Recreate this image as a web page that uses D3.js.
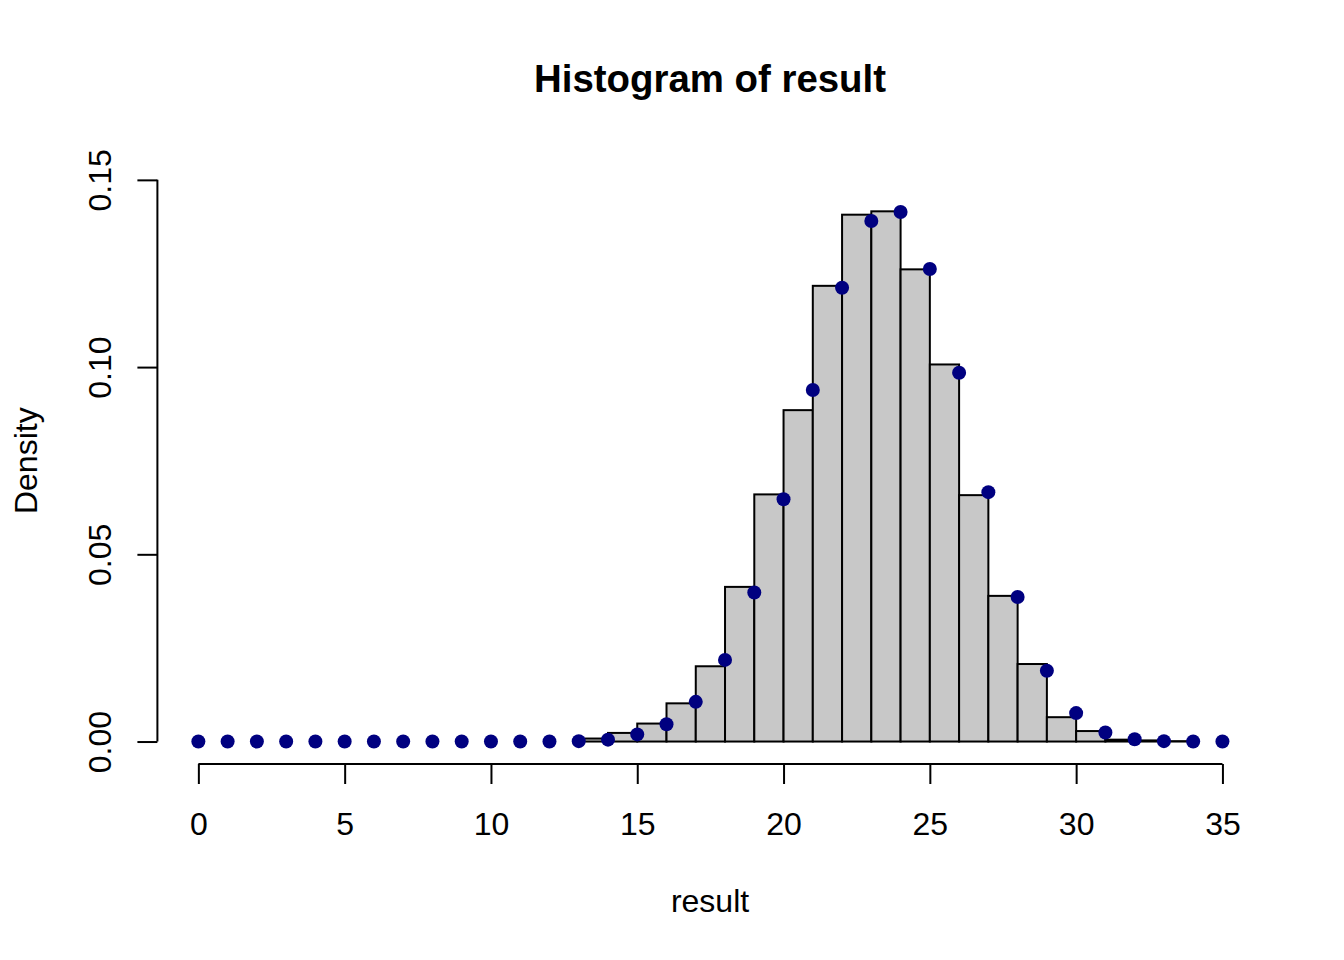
<!DOCTYPE html>
<html>
<head>
<meta charset="utf-8">
<script src="https://cdn.jsdelivr.net/npm/d3@7"></script>
<style>
	body { margin: 0; background: #fff; }
	text { font-family: "Liberation Sans", Arial, Helvetica, sans-serif; fill: #000; }
</style>
</head>
<body>
<div id="chart"></div>
<script>

// histogram bins (left edge of each unit-wide bin) and their densities
var binStarts = [13, 14, 15, 16, 17, 18, 19, 20, 21, 22, 23, 24, 25, 26, 27, 28, 29, 30, 31, 32, 33];
var binDensity = [0.0008, 0.0023, 0.0048, 0.0102, 0.0201, 0.0413, 0.0660, 0.0885, 0.1217, 0.1407,
	0.1416, 0.1261, 0.1007, 0.0658, 0.0389, 0.0207, 0.0065, 0.0028, 0.0005, 0.0003, 0.0001];

// overlaid points: value at each integer 0..35
var pointX = [0, 1, 2, 3, 4, 5, 6, 7, 8, 9, 10, 11, 12, 13, 14, 15, 16, 17,
	18, 19, 20, 21, 22, 23, 24, 25, 26, 27, 28, 29, 30, 31, 32, 33, 34, 35];
var pointY = [0, 0, 0, 0, 0, 0, 0, 0, 0, 0, 0, 0, 0, 0.0001, 0.0005, 0.0019, 0.0046, 0.0106,
	0.0218, 0.0398, 0.0647, 0.0939, 0.1212, 0.1390, 0.1414, 0.1262, 0.0985, 0.0666,
	0.0386, 0.0189, 0.0076, 0.0024, 0.0006, 0.0001, 0, 0];

var xTicks = [0, 5, 10, 15, 20, 25, 30, 35];
var yTicks = [0, 0.05, 0.10, 0.15];

var titleText = "Histogram of result";
var xLabel = "result";
var yLabel = "Density";


Histogram = function(_parentElement){
	this.parentElement = _parentElement;
	this.initVis();
}

Histogram.prototype.initVis = function(){
	var vis = this;

	vis.width = 1344;
	vis.height = 960;

	// R style margins: plot region edges
	vis.plot = {left: 157.4, right: 1263.4, top: 157.4, bottom: 764};

	vis.svg = d3.select(vis.parentElement).append("svg")
		.attr("width", vis.width)
		.attr("height", vis.height);

	vis.svg.append("rect")
		.attr("width", vis.width)
		.attr("height", vis.height)
		.attr("fill", "#fff");

	// 4% range extension like R's default axis style
	var xPad = 0.04 * 35, yPad = 0.04 * 0.15;
	vis.x = d3.scaleLinear()
		.domain([0 - xPad, 35 + xPad])
		.range([vis.plot.left, vis.plot.right]);
	vis.y = d3.scaleLinear()
		.domain([0 - yPad, 0.15 + yPad])
		.range([vis.plot.bottom, vis.plot.top]);

	vis.updateVis();
}

Histogram.prototype.updateVis = function(){
	var vis = this;

	vis.svg.selectAll("rect.bar")
		.data(binStarts)
		.enter()
		.append("rect")
		.attr("class", "bar")
		.attr("x", function(d){ return vis.x(d); })
		.attr("y", function(d, i){ return vis.y(binDensity[i]); })
		.attr("width", function(d){ return vis.x(d + 1) - vis.x(d); })
		.attr("height", function(d, i){ return vis.y(0) - vis.y(binDensity[i]); })
		.attr("fill", "#c8c8c8")
		.attr("stroke", "#000")
		.attr("stroke-width", 2);

	vis.svg.selectAll("circle.pt")
		.data(pointX)
		.enter()
		.append("circle")
		.attr("class", "pt")
		.attr("cx", function(d){ return vis.x(d); })
		.attr("cy", function(d, i){ return vis.y(pointY[i]); })
		.attr("r", 7)
		.attr("fill", "#000080");

	// x axis sits at the bottom of the plot region, spanning only the ticks
	var xAxis = d3.axisBottom(vis.x)
		.tickValues(xTicks)
		.tickFormat(d3.format("d"))
		.tickSize(20)
		.tickPadding(20)
		.tickSizeOuter(0);

	var gx = vis.svg.append("g")
		.attr("transform", "translate(0," + vis.plot.bottom + ")")
		.call(xAxis);
	gx.select(".domain").attr("d", "M" + vis.x(0) + ",0H" + vis.x(35));

	var yAxis = d3.axisLeft(vis.y)
		.tickValues(yTicks)
		.tickFormat(d3.format(".2f"))
		.tickSize(20)
		.tickSizeOuter(0);

	var gy = vis.svg.append("g")
		.attr("transform", "translate(" + vis.plot.left + ",0)")
		.call(yAxis);
	gy.select(".domain").attr("d", "M0," + vis.y(0) + "V" + vis.y(0.15));

	[gx, gy].forEach(function(g){
		g.selectAll("path, line").attr("stroke", "#000").attr("stroke-width", 2);
		g.selectAll("text")
			.attr("font-family", "'Liberation Sans', Arial, Helvetica, sans-serif")
			.attr("font-size", 32)
			.attr("fill", "#000");
	});

	gx.selectAll(".tick text")
		.attr("dy", null)
		.attr("y", 71);

	// rotated y tick labels, baseline facing the axis
	gy.selectAll(".tick text")
		.attr("x", null)
		.attr("dy", null)
		.attr("text-anchor", "middle")
		.attr("transform", "translate(-46,0) rotate(-90)");

	vis.svg.append("text")
		.attr("x", 710)
		.attr("y", 92)
		.attr("text-anchor", "middle")
		.attr("font-size", 38.4)
		.attr("font-weight", "bold")
		.text(titleText);

	vis.svg.append("text")
		.attr("x", 710)
		.attr("y", 912)
		.attr("text-anchor", "middle")
		.attr("font-size", 32)
		.text(xLabel);

	vis.svg.append("text")
		.attr("transform", "translate(37," + vis.y(0.075) + ") rotate(-90)")
		.attr("text-anchor", "middle")
		.attr("font-size", 32)
		.text(yLabel);
}

var hist = new Histogram("#chart");

</script>
</body>
</html>
